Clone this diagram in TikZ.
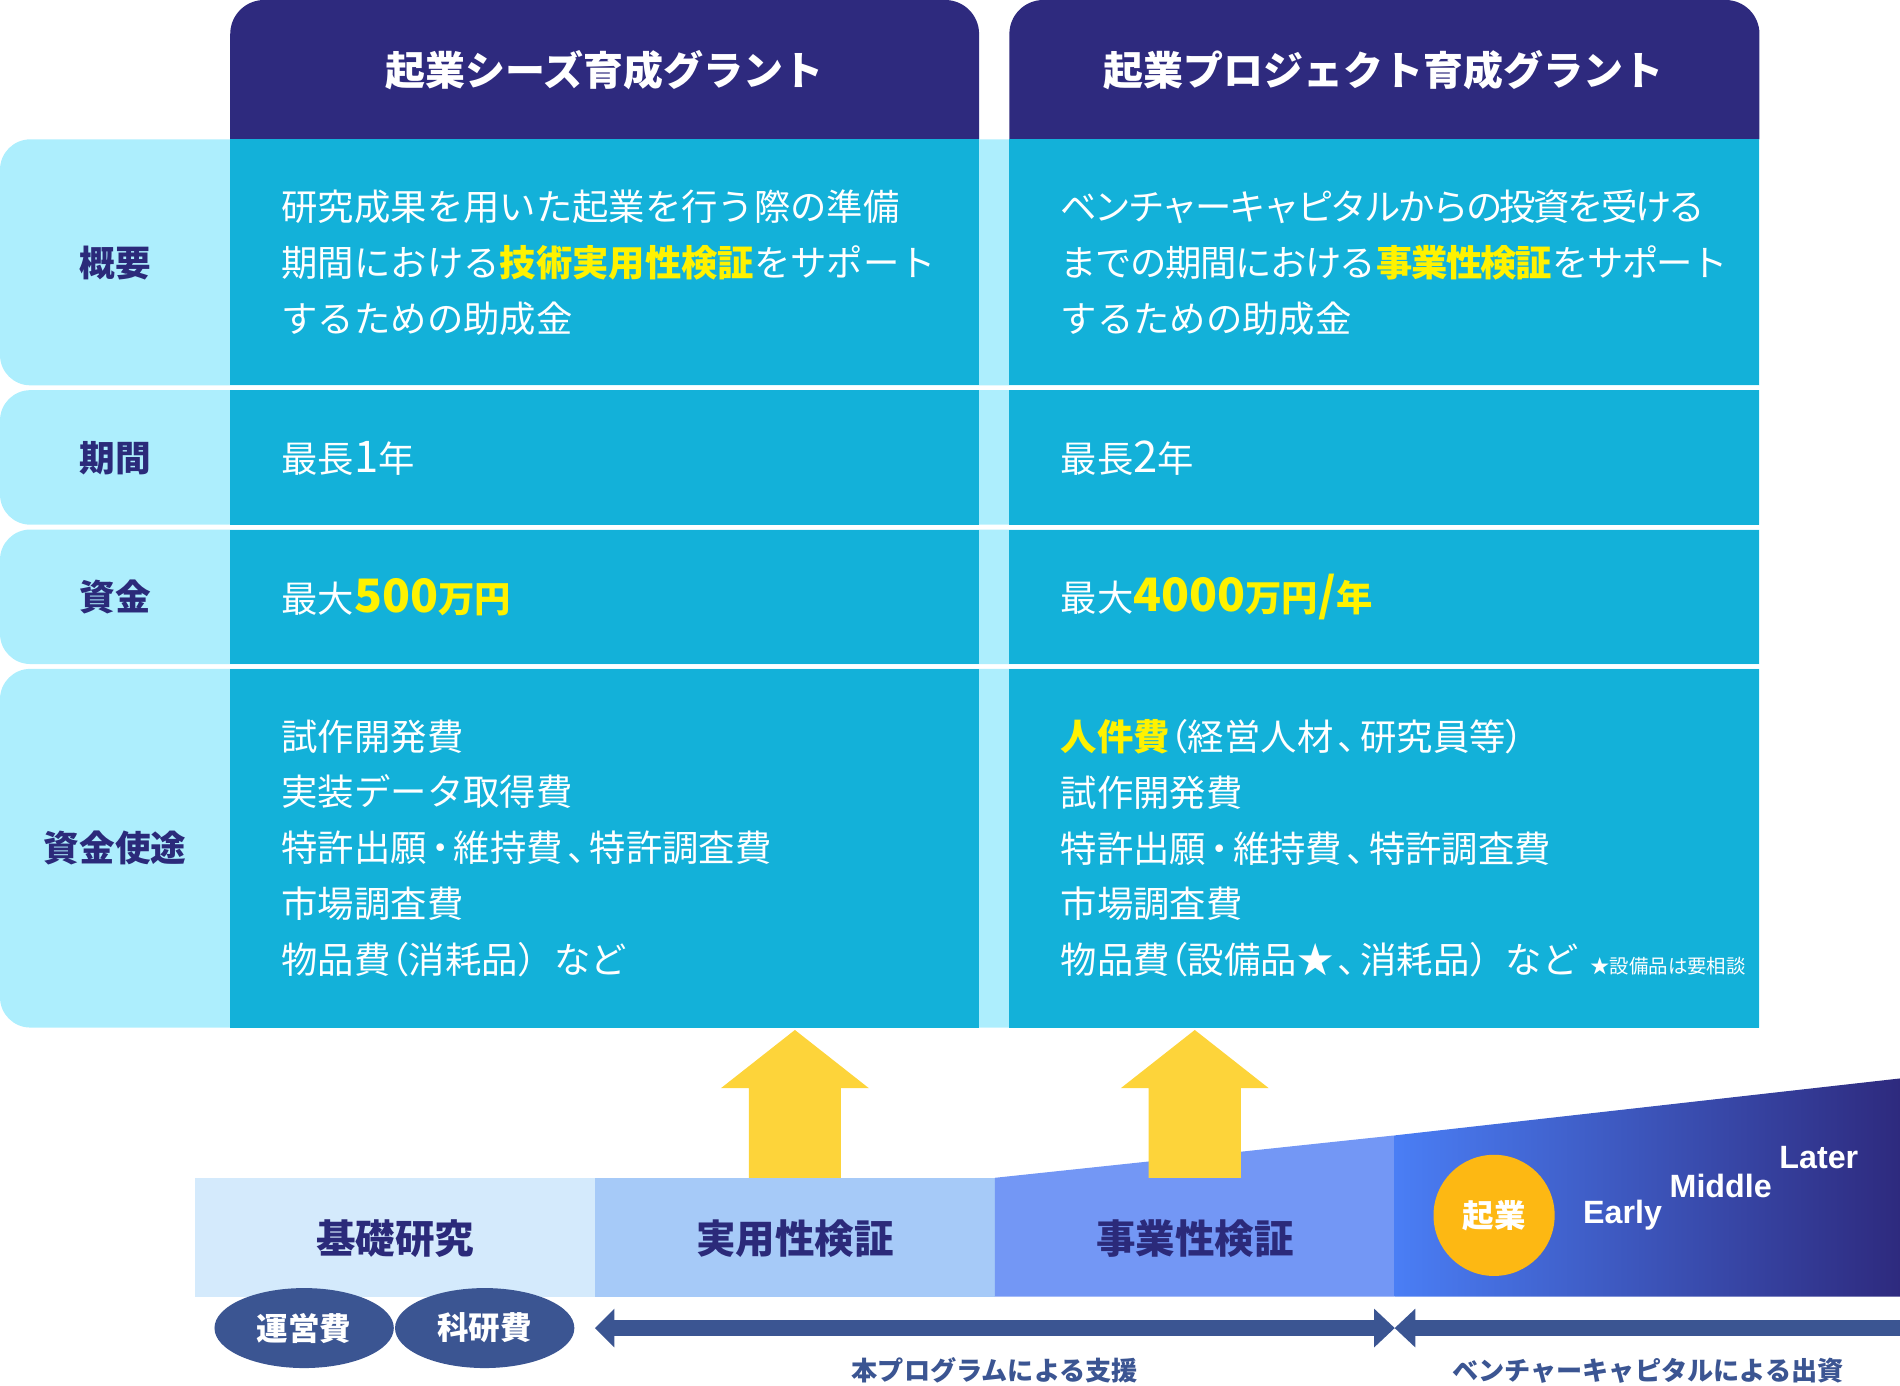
\documentclass[tikz,border=0pt]{standalone}
\usepackage{fontspec}
\setmainfont{Noto Sans CJK JP}
\newfontfamily\latfont{Liberation Sans}
\usetikzlibrary{shapes.geometric}
\newcommand\pl[1]{{\addfontfeature{RawFeature=+palt}#1}}
\newcommand\plm[1]{\kern1.8pt{\addfontfeature{RawFeature=+palt}#1}\kern1.8pt}
\newcommand\dg[1]{{\fontsize{18}{23}\selectfont #1}}
\newcommand\dgb[1]{{\fontsize{19}{23}\selectfont #1}}
\definecolor{hdr}{HTML}{2E2A7E}
\definecolor{navy}{HTML}{2B2A7A}
\definecolor{cell}{HTML}{13B1D9}
\definecolor{lcyan}{HTML}{ADEEFD}
\definecolor{hl}{HTML}{FFF200}
\definecolor{yarrow}{HTML}{FDD43A}
\definecolor{stA}{HTML}{D4EAFC}
\definecolor{stB}{HTML}{A6CAF8}
\definecolor{stC}{HTML}{7397F5}
\definecolor{vcL}{HTML}{4A7EF5}
\definecolor{barblue}{HTML}{3B5592}
\definecolor{orangec}{HTML}{FDB813}
\begin{document}
\begin{tikzpicture}[x=0.5pt,y=-0.5pt,
  body/.style={anchor=west, text=white, font=\fontsize{15}{23}\selectfont, align=left, inner sep=0pt},
  lbl/.style={text=navy, font=\fontsize{14.7}{18}\selectfont\bfseries, inner sep=0pt},
  hdrtxt/.style={text=white, font=\fontsize{16.5}{20}\selectfont\bfseries, inner sep=0pt},
  stagetxt/.style={text=navy, font=\fontsize{16.3}{20}\selectfont\bfseries, inner sep=0pt},
  oval/.style={ellipse, fill=barblue, minimum width=74pt, minimum height=33pt, inner sep=0pt, text=white, font=\fontsize{13}{15}\selectfont\bfseries},
  captxt/.style={text=barblue, font=\fontsize{10.8}{13}\selectfont\bfseries, inner sep=0pt},
  stagelat/.style={text=white, font=\latfont\fontsize{13.3}{15}\selectfont\bfseries, inner sep=0pt}
]
\useasboundingbox (0,0) rectangle (1568,1143);

% header boxes
\fill[hdr] (190,115) [rounded corners=14pt] -- (190,0) -- (808,0) [sharp corners] -- (808,115) -- cycle;
\fill[hdr] (833,115) [rounded corners=14pt] -- (833,0) -- (1452,0) [sharp corners] -- (1452,115) -- cycle;
\node[hdrtxt] (h1) at (499,58) {起業シーズ育成グラント};
\node[hdrtxt] (h2) at (1142,58) {起業プロジェクト育成グラント};

% row backgrounds
\foreach \t/\b in {115/318, 322/433, 437/548, 552/848}{
  \fill[lcyan] (1452,\t) -- (100,\t) [rounded corners=12.5pt] -- (0,\t) -- (0,\b) -- (100,\b) [sharp corners] -- (1452,\b) -- cycle;
  \fill[cell] (190,\t) rectangle (808,\b);
  \fill[cell] (833,\t) rectangle (1452,\b);
}

% labels
\node[lbl] (l1) at (95,217) {概要};
\node[lbl] (l2) at (95,378) {期間};
\node[lbl] (l3) at (95,493) {資金};
\node[lbl] (l4) at (95,700) {資金使途};

% body texts
\node[body] (a1) at (232,217) {研究成果を用いた起業を行う際の準備\\期間における{\color{hl}\bfseries 技術実用性検証}をサポート\\するための助成金};
\node[body] (b1) at (875,217) {{\addfontfeature{LetterSpace=-7}ベンチャーキャピタルからの投資を受ける}\\{\addfontfeature{LetterSpace=-4}までの期間における{\color{hl}\bfseries 事業性検証}をサポート}\\するための助成金};
\node[body] (a2) at (232,378) {最長\dg{1}年};
\node[body] (b2) at (875,378) {最長\dg{2}年};
\node[body] (a3) at (232,493) {最大{\color{hl}\bfseries \dgb{500}万円}};
\node[body] (b3) at (875,493) {最大{\color{hl}\bfseries \dgb{4000}万円\dgb{/}年}};
\node[body] (a4) at (232,700) {試作開発費\\実装データ取得費\\特許出願\plm{・}維持費\plm{、}特許調査費\\市場調査費\\物品費\pl{（}消耗品）など};
\node[body] (b4) at (875,700) {{\color{hl}\bfseries 人件費}\pl{（}経営人材\plm{、}研究員等\pl{）}\\試作開発費\\特許出願\plm{・}維持費\plm{、}特許調査費\\市場調査費\\物品費\pl{（}設備品★\plm{、}消耗品）など\hspace{5pt}{\fontsize{8}{10}\selectfont ★設備品は要相談}};

% stage bar
\fill[stA] (161,972) rectangle (491,1070);
\fill[stB] (491,972) rectangle (821,1070);
\fill[stC] (821,972) -- (1151,937) -- (1151,1070) -- (821,1070) -- cycle;
\shade[left color=vcL, right color=hdr] (1151,937) -- (1568,890) -- (1568,1070) -- (1151,1070) -- cycle;

% yellow arrows
\fill[yarrow] (656,850) -- (717,898) -- (694,898) -- (694,972) -- (618,972) -- (618,898) -- (595,898) -- cycle;
\fill[yarrow] (986,850) -- (1047,898) -- (1024,898) -- (1024,972) -- (948,972) -- (948,898) -- (925,898) -- cycle;

\node[stagetxt] (s1) at (326,1022) {基礎研究};
\node[stagetxt] (s2) at (656,1022) {実用性検証};
\node[stagetxt] (s3) at (986,1022) {事業性検証};

\node[circle, fill=orangec, minimum size=50pt, inner sep=0pt, text=white, font=\fontsize{13}{15}\selectfont\bfseries] (kigyo) at (1233,1003) {起業};
\node[stagelat] (early) at (1339,1003) {Early};
\node[stagelat] (middle) at (1420,979) {Middle};
\node[stagelat] (later) at (1501,955) {Later};

% ovals
\node[oval] (o1) at (251,1096) {運営費};
\node[oval] (o2) at (400,1096) {科研費};

% blue arrows
\fill[barblue] (491,1096) -- (507,1080) -- (507,1089.5) -- (1134,1089.5) -- (1134,1080) -- (1151,1096) -- (1134,1112) -- (1134,1102.5) -- (507,1102.5) -- (507,1112) -- cycle;
\fill[barblue] (1151,1096) -- (1168,1080) -- (1168,1089.5) -- (1568,1089.5) -- (1568,1102.5) -- (1168,1102.5) -- (1168,1112) -- cycle;

\node[captxt] (c1) at (821,1131) {本プログラムによる支援};
\node[captxt] (c2) at (1360,1131) {ベンチャーキャピタルによる出資};
\end{tikzpicture}
\end{document}
